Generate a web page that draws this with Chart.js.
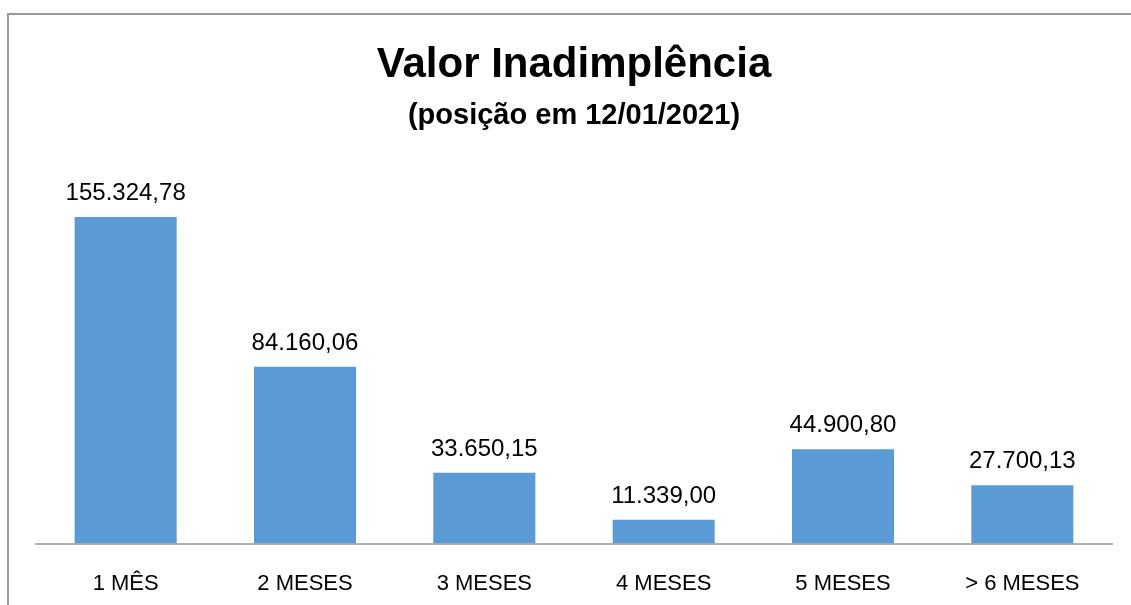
<!DOCTYPE html>
<html lang="pt-BR">
<head>
<meta charset="utf-8">
<title>Valor Inadimplência</title>
<script src="https://cdn.jsdelivr.net/npm/chart.js@4"></script>
<style>
  html, body { margin: 0; padding: 0; background: #ffffff; }
  #wrap { position: relative; width: 1131px; height: 605px; overflow: hidden; }
  #frame {
    position: absolute; left: 7px; top: 13px; width: 2000px; height: 2000px;
    border-left: 2px solid #9a9a9a; border-top: 2px solid #9a9a9a;
    pointer-events: none;
  }
  canvas { position: absolute; left: 0; top: 0; }
</style>
</head>
<body>
<div id="wrap">
  <canvas id="chart" width="1131" height="633"></canvas>
  <div id="frame"></div>
</div>
<script>
// Faixas de atraso e valores em aberto (R$)
const categorias = ['1 MÊS', '2 MESES', '3 MESES', '4 MESES', '5 MESES', '> 6 MESES'];
const valores = [155324.78, 84160.06, 33650.15, 11339.00, 44900.80, 27700.13];

const FONT = '"Liberation Sans", Arial, sans-serif';

// Formata número no padrão brasileiro: 155.324,78
function formatBR(v) {
  const [inteiro, dec] = v.toFixed(2).split('.');
  return inteiro.replace(/\B(?=(\d{3})+(?!\d))/g, '.') + ',' + dec;
}

// Rótulos de valor acima de cada barra
const rotulosValor = {
  id: 'rotulosValor',
  afterDatasetsDraw(chart) {
    const ctx = chart.ctx;
    const meta = chart.getDatasetMeta(0);
    ctx.save();
    ctx.font = '24px ' + FONT;
    ctx.fillStyle = '#000000';
    ctx.textAlign = 'center';
    ctx.textBaseline = 'alphabetic';
    meta.data.forEach((bar, i) => {
      ctx.fillText(formatBR(valores[i]), bar.x, bar.y - 17);
    });
    ctx.restore();
  }
};

new Chart(document.getElementById('chart'), {
  type: 'bar',
  data: {
    labels: categorias,
    datasets: [{
      data: valores,
      backgroundColor: '#5B9BD5',
      borderWidth: 0,
      categoryPercentage: 1.0,
      barPercentage: 0.569
    }]
  },
  options: {
    responsive: false,
    animation: false,
    layout: { padding: { left: 36, right: 19, top: 0, bottom: 9 } },
    plugins: {
      legend: { display: false },
      tooltip: { enabled: false },
      title: {
        display: true,
        text: 'Valor Inadimplência',
        color: '#000000',
        font: { family: FONT, size: 42, weight: 'bold', lineHeight: 1.2 },
        padding: { top: 40, bottom: 8 }
      },
      subtitle: {
        display: true,
        text: '(posição em 12/01/2021)',
        color: '#000000',
        font: { family: FONT, size: 29, weight: 'bold', lineHeight: 1.2 },
        padding: { top: 0, bottom: 32 }
      }
    },
    scales: {
      x: {
        grid: { display: false, drawTicks: false },
        border: { display: true, color: '#b0b0b0', width: 2 },
        ticks: {
          color: '#000000',
          padding: 27,
          font: { family: FONT, size: 22 }
        }
      },
      y: {
        display: false,
        min: 0,
        max: 180000
      }
    }
  },
  plugins: [rotulosValor]
});
</script>
</body>
</html>
